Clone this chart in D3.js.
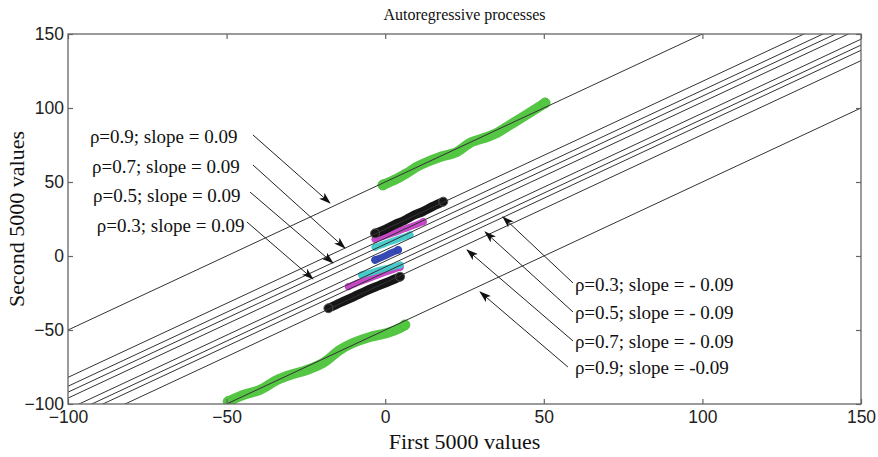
<!DOCTYPE html>
<html>
<head>
<meta charset="utf-8">
<script src="https://cdnjs.cloudflare.com/ajax/libs/d3/7.8.5/d3.min.js"></script>
<style>
  body { margin: 0; background: #fff; }
  #chart { width: 878px; height: 457px; }
</style>
</head>
<body>
<div id="chart"></div>
<script>
// reference lines y = slope * x + intercept
var lineIntercepts = [50, 18, 12, 8, 4, -3.5, -7.5, -11, -18, -50];
var lineSlope = 1;

// scatter bands (x, y)
var greenUpper = [[-0.7, 48.0], [3.5, 52.0], [6.9, 56.1], [10.2, 60.5], [13.2, 63.5], [17.3, 66.9], [22.6, 70.3],
  [26.7, 76.4], [32.1, 80.4], [35.2, 83.1], [39.3, 88.5], [43.4, 93.9], [47.9, 100.0], [50.4, 103.4]];
var greenLower = [[-49.5, -98.3], [-44.8, -93.9], [-39.5, -90.5], [-34.1, -83.8], [-30.0, -80.4], [-24.7, -77.0],
  [-19.6, -72.3], [-14.3, -63.5], [-10.2, -58.8], [-4.8, -54.7], [0.6, -52.0], [4.7, -48.6], [6.2, -46.6]];
var blackUpper = [[-3.2, 15.3], [0, 18.0], [3, 21.2], [6, 24.0], [9, 27.5], [12, 30.2], [15, 33.5], [18.3, 36.7]];
var magentaUpper = [[-3.2, 11.3], [0, 13.5], [3, 15.8], [6, 18.2], [9, 20.6], [12.0, 23.2]];
var cyanUpper = [[-3.2, 5.9], [0, 8.4], [3, 10.6], [5.5, 12.5], [7.8, 14.2]];
var blueBand = [[-3.2, -2.7], [0, 0.1], [2, 2.2], [4.1, 4.1]];
var cyanLower = [[-7.4, -12.8], [-4, -10.9], [-1, -9.1], [2, -7.6], [4.7, -6.1]];
var magentaLower = [[-11.6, -20.7], [-8, -17.6], [-4, -14.4], [0, -11.2], [4.7, -7.6]];
var blackLower = [[-17.9, -35.3], [-14, -31.4], [-10, -27.6], [-6, -23.5], [-2, -20.0], [1.5, -17.0], [4.7, -14.0]];

var tickValues = [-100, -50, 0, 50, 100, 150];

// annotations: label position, arrow start, arrow tip (data units)
var labelsLeft = ["\u03c1=0.9; slope = 0.09", "\u03c1=0.7; slope = 0.09", "\u03c1=0.5; slope = 0.09", "\u03c1=0.3; slope = 0.09"];
var labelsLeftPos = [[-93.1, 76.4], [-92.4, 56.1], [-92.1, 36.5], [-90.9, 16.2]];
var arrowsLeft = [[[-41.7, 81.8], [-17.4, 35.8]], [[-41.7, 61.5], [-12.7, 5.4]], [[-42.6, 43.2], [-16.5, -4.7]], [[-43.6, 23.0], [-22.8, -15.5]]];
var labelsRight = ["\u03c1=0.3; slope = - 0.09", "\u03c1=0.5; slope = - 0.09", "\u03c1=0.7; slope = - 0.09", "\u03c1=0.9; slope = -0.09"];
var labelsRightPos = [[59.8, -23.6], [59.8, -42.6], [59.8, -62.2], [59.8, -79.7]];
var arrowsRight = [[[59.2, -18.2], [37.1, 26.4]], [[59.2, -37.8], [31.5, 16.2]], [[59.2, -57.4], [25.8, 4.1]], [[57.6, -75.0], [29.9, -24.3]]];

var W = 878, H = 457;
var margin = {left: 68, right: 17, top: 34, bottom: 53};
var serif = "'Liberation Serif', 'Times New Roman', serif";

var x = d3.scaleLinear().domain([-100, 150]).range([margin.left, W - margin.right]);
var y = d3.scaleLinear().domain([-100, 150]).range([H - margin.bottom, margin.top]);

var svg = d3.select("#chart").append("svg")
    .attr("width", W)
    .attr("height", H)
    .style("background", "#fff");

var defs = svg.append("defs");
defs.append("clipPath").attr("id", "plotclip")
  .append("rect")
    .attr("x", x(-100)).attr("y", y(150))
    .attr("width", x(150) - x(-100)).attr("height", y(-100) - y(150));
defs.append("marker")
    .attr("id", "arrow")
    .attr("markerUnits", "userSpaceOnUse")
    .attr("markerWidth", 12).attr("markerHeight", 8)
    .attr("refX", 11).attr("refY", 4)
    .attr("orient", "auto")
  .append("path")
    .attr("d", "M0,0 L12,4 L0,8 L3,4 z")
    .attr("fill", "#111");

var line = d3.line()
    .x(function(d) { return x(d[0]); })
    .y(function(d) { return y(d[1]); })
    .curve(d3.curveCatmullRom);

var bands = [
  {data: greenUpper, color: "#4cc23a", w: 10},
  {data: greenLower, color: "#4cc23a", w: 10},
  {data: blackLower, color: "#0a0a0a", w: 9},
  {data: magentaLower, color: "#c43ec4", w: 6.5},
  {data: cyanLower, color: "#3ec9c9", w: 6.5},
  {data: blueBand, color: "#2b3fb0", w: 7},
  {data: cyanUpper, color: "#3ec9c9", w: 6.5},
  {data: magentaUpper, color: "#c43ec4", w: 6.5},
  {data: blackUpper, color: "#0a0a0a", w: 9}
];

var plot = svg.append("g").attr("clip-path", "url(#plotclip)");

bands.forEach(function(b) {
  plot.append("path")
      .datum(b.data)
      .attr("d", line)
      .attr("fill", "none")
      .attr("stroke", b.color)
      .attr("stroke-width", b.w)
      .attr("stroke-linecap", "round")
      .attr("stroke-linejoin", "round")
      .attr("opacity", 0.95);
  // open circle markers at the ends
  plot.selectAll(null)
      .data([b.data[0], b.data[b.data.length - 1]])
    .enter().append("circle")
      .attr("cx", function(d) { return x(d[0]); })
      .attr("cy", function(d) { return y(d[1]); })
      .attr("r", b.w / 2)
      .attr("fill", "none")
      .attr("stroke", b.color === "#0a0a0a" ? "#555" : b.color)
      .attr("stroke-width", 1);
});

// reference lines
plot.selectAll(".refline")
    .data(lineIntercepts)
  .enter().append("line")
    .attr("class", "refline")
    .attr("x1", x(-100))
    .attr("y1", function(c) { return y(lineSlope * -100 + c); })
    .attr("x2", x(150))
    .attr("y2", function(c) { return y(lineSlope * 150 + c); })
    .attr("stroke", "#333")
    .attr("stroke-width", 1);

// frame
svg.append("rect")
    .attr("x", x(-100)).attr("y", y(150))
    .attr("width", x(150) - x(-100)).attr("height", y(-100) - y(150))
    .attr("fill", "none")
    .attr("stroke", "#666")
    .attr("stroke-width", 1.3);

// axes with inward ticks (matlab style)
svg.append("g")
    .attr("transform", "translate(0," + y(-100) + ")")
    .call(d3.axisBottom(x).tickValues(tickValues).tickSizeInner(-5).tickSizeOuter(0).tickPadding(7));
svg.append("g")
    .attr("transform", "translate(" + x(-100) + ",0)")
    .call(d3.axisLeft(y).tickValues(tickValues).tickSizeInner(-5).tickSizeOuter(0).tickPadding(4));
svg.append("g")
    .attr("transform", "translate(0," + y(150) + ")")
    .call(d3.axisTop(x).tickValues(tickValues).tickSizeInner(-5).tickSizeOuter(0).tickFormat(""));
svg.append("g")
    .attr("transform", "translate(" + x(150) + ",0)")
    .call(d3.axisRight(y).tickValues(tickValues).tickSizeInner(-5).tickSizeOuter(0).tickFormat(""));

svg.selectAll(".domain").remove();
svg.selectAll(".tick line").attr("stroke", "#666").attr("stroke-width", 1.2);
svg.selectAll(".tick text")
    .style("font-family", "'Liberation Sans', Arial, sans-serif")
    .style("font-size", "17.5px")
    .attr("fill", "#222");

// title and axis labels
svg.append("text")
    .attr("x", (x(-100) + x(150)) / 2)
    .attr("y", 20)
    .attr("text-anchor", "middle")
    .style("font-family", serif)
    .style("font-size", "16px")
    .attr("fill", "#111")
    .text("Autoregressive processes");

svg.append("text")
    .attr("x", (x(-100) + x(150)) / 2)
    .attr("y", 449)
    .attr("text-anchor", "middle")
    .style("font-family", serif)
    .style("font-size", "22px")
    .attr("fill", "#111")
    .text("First 5000 values");

svg.append("text")
    .attr("transform", "translate(24," + (y(-100) + y(150)) / 2 + ") rotate(-90)")
    .attr("text-anchor", "middle")
    .style("font-family", serif)
    .style("font-size", "22px")
    .attr("fill", "#111")
    .text("Second 5000 values");

// annotations
function addAnnotations(labels, pos, arrows) {
  svg.selectAll(null)
      .data(arrows)
    .enter().append("line")
      .attr("x1", function(d) { return x(d[0][0]); })
      .attr("y1", function(d) { return y(d[0][1]); })
      .attr("x2", function(d) { return x(d[1][0]); })
      .attr("y2", function(d) { return y(d[1][1]); })
      .attr("stroke", "#222")
      .attr("stroke-width", 1)
      .attr("marker-end", "url(#arrow)");
  svg.selectAll(null)
      .data(labels)
    .enter().append("text")
      .attr("x", function(d, i) { return x(pos[i][0]); })
      .attr("y", function(d, i) { return y(pos[i][1]); })
      .style("font-family", serif)
      .style("font-size", "19px")
      .attr("fill", "#111")
      .text(function(d) { return d; });
}
addAnnotations(labelsLeft, labelsLeftPos, arrowsLeft);
addAnnotations(labelsRight, labelsRightPos, arrowsRight);
</script>
</body>
</html>
